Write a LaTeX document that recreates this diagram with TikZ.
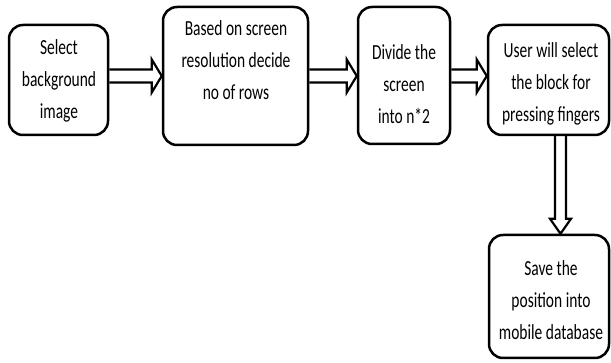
\documentclass[tikz,border=0pt]{standalone}
\usepackage{fontspec}
\newfontfamily\boxfont[FakeStretch=0.72]{Carlito}
\usetikzlibrary{calc}
\tikzset{
  box/.style={draw=black, line width=2.5pt, rounded corners=14pt, inner sep=0pt},
  txt/.style={align=center, inner sep=0pt, font=\boxfont\fontsize{21.5pt}{32pt}\selectfont, text=black},
  arrowline/.style={draw=black, line width=2.2pt, line join=miter}
}
\newcommand\hollowR[3]{%
  \draw[arrowline] let \p1=(#1.east |- 0,#3), \p2=(#2.west |- 0,#3) in
    (\x1,\y1+6.5pt) -- (\x2-10pt,\y2+6.5pt) -- (\x2-10pt,\y2+16.5pt) -- (\x2,\y2)
    -- (\x2-10pt,\y2-16.5pt) -- (\x2-10pt,\y2-6.5pt) -- (\x1,\y1-6.5pt);}
\newcommand\hollowD[3]{%
  \draw[arrowline] let \p1=(#1.south -| #3,0), \p2=(#2.north -| #3,0) in
    (\x1-5.5pt,\y1) -- (\x2-5.5pt,\y2+15pt) -- (\x2-10.5pt,\y2+15pt) -- (\x2,\y2)
    -- (\x2+10.5pt,\y2+15pt) -- (\x2+5.5pt,\y2+15pt) -- (\x1+5.5pt,\y1);}
\begin{document}
\begin{tikzpicture}[x=1pt,y=-1pt]
\useasboundingbox (0,0) rectangle (611,363);
\fill[white] (0,0) rectangle (611,363);
\node[box, minimum width=99pt, minimum height=110pt] (b1) at (58.5,80) {};
\node[box, minimum width=145pt, minimum height=138pt] (b2) at (235.5,76) {};
\node[box, minimum width=92pt, minimum height=137pt] (b3) at (404,75.5) {};
\node[box, minimum width=121pt, minimum height=110pt] (b4) at (548.5,80) {};
\node[box, minimum width=120pt, minimum height=123pt] (b5) at (549,296.5) {};
\node[txt] (t1) at (59,81) {Select\\background\\image};
\node[txt] (t2) at (236,60.5) {Based on screen\\resolution decide\\no of rows};
\node[txt] (t3) at (404,84) {Divide the\\screen\\into n*2};
\node[txt] (t4) at (551,84) {User will select\\the block for\\pressing fingers};
\node[txt] (t5) at (551,300) {Save the\\position into\\mobile database};
\hollowR{b1}{b2}{76}
\hollowR{b2}{b3}{76}
\hollowR{b3}{b4}{76}
\hollowD{b4}{b5}{560.5}
\end{tikzpicture}
\end{document}
